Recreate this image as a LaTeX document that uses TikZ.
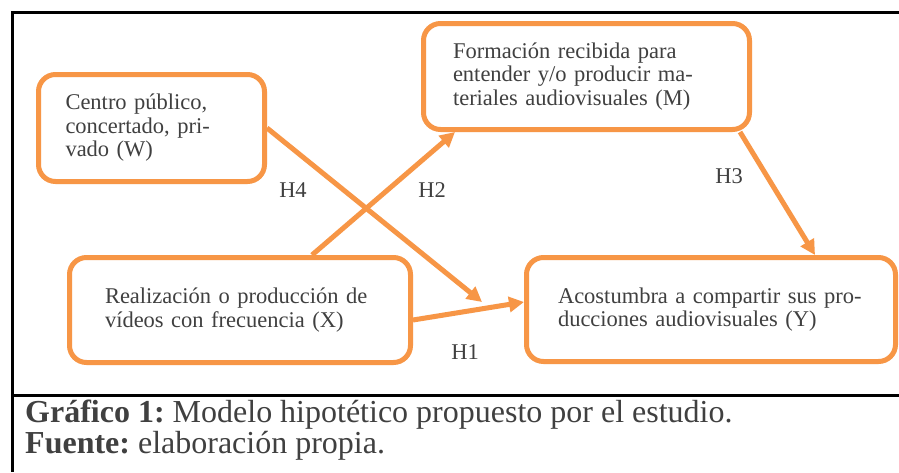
\documentclass[tikz,border=0pt]{standalone}
\usepackage{fontspec}
\setmainfont{Liberation Serif}
\usetikzlibrary{arrows.meta,calc}
\definecolor{accorange}{HTML}{F79646}
\definecolor{txtgray}{HTML}{404040}
\begin{document}
\frenchspacing
\begin{tikzpicture}[x=1pt,y=-1pt,
  box/.style={draw=accorange, line width=5pt, rounded corners=17pt, fill=white,
    text=txtgray, align=left, inner ysep=0pt,
    font=\fontsize{22.5}{23.5}\selectfont},
  link/.style={draw=accorange, line width=5pt, -{Triangle[length=15pt,width=15pt]}},
  hlab/.style={text=txtgray, inner sep=0pt, font=\fontsize{22.5}{23.5}\selectfont},
  captext/.style={text=txtgray, inner sep=0pt, anchor=base west, font=\fontsize{32}{31}\selectfont},
  frameline/.style={line width=3pt, draw=black}]
\useasboundingbox (0,0) rectangle (899,472);
\fill[white] (0,0) rectangle (899,472);
% frame
\draw[frameline] (899,12) -- (12,12) -- (12,472);
\draw[frameline] (12,395) -- (899,395);
% boxes
\node[box, minimum width=226pt, minimum height=107pt, inner xsep=27pt, text width=172pt] (W) at (151.5,128)
  {Centro público,\\ concertado, pri-\\ vado (W)};
\node[box, minimum width=326pt, minimum height=106pt, inner xsep=29.5pt, text width=267pt] (M) at (586.5,76.5)
  {Formación recibida para\\ entender y/o producir ma-\\ teriales audiovisuales (M)};
\node[box, minimum width=341pt, minimum height=105pt, inner xsep=35.5pt, text width=270pt] (X) at (240,310)
  {Realización o producción de\\ vídeos con frecuencia (X)};
\node[box, minimum width=369pt, minimum height=104pt, inner xsep=31.5pt, text width=306pt] (Y) at (711,309.5)
  {Acostumbra a compartir sus pro-\\ ducciones audiovisuales (Y)};
% connectors
\coordinate (h4end) at (482,302);
\draw[link] (W.east) -- (h4end);
\draw[link] ($(X.north)+(72,0)$) -- ($(M.south west)+(34,0)$);
\draw[link] ($(X.east)+(0,10)$) -- ($(Y.west)+(0,-7.5)$);
\draw[link] ($(M.south east)+(-12,0)$) -- ($(Y.north)+(104,0)$);
% labels
\node[hlab] (h4) at (293,190) {H4};
\node[hlab] (h2) at (432,190) {H2};
\node[hlab] (h3) at (729,176) {H3};
\node[hlab] (h1) at (465,352) {H1};
% caption
\node[captext] (cap1) at (25,422.7) {\textbf{Gráfico 1:} Modelo hipotético propuesto por el estudio.};
\node[captext] (cap2) at (25,453) {\textbf{Fuente:} elaboración propia.};
\end{tikzpicture}
\end{document}
